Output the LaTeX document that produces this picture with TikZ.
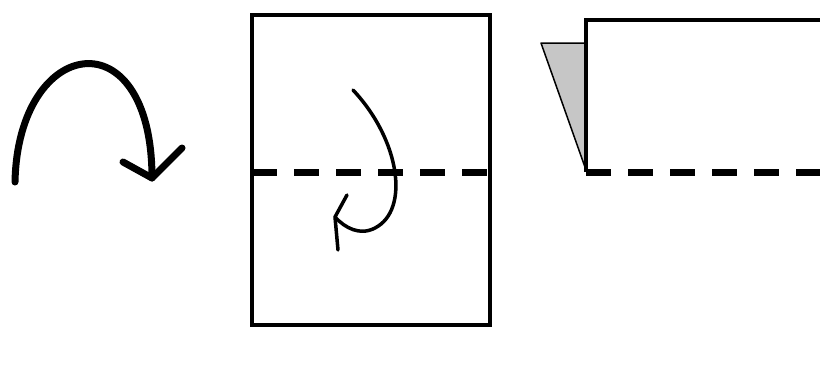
\documentclass[tikz,border=0pt]{standalone}
\usetikzlibrary{calc}
\tikzset{
  paper/.style={line width=3.5pt},
  foldline/.style={line width=7pt, dash pattern=on 25pt off 17pt},
  turnarrow/.style={line width=7pt, line cap=round, line join=round},
  flaparrow/.style={line width=3.5pt, line cap=round, line join=round},
}
\begin{document}
\begin{tikzpicture}[x=1pt, y=-1pt]
\useasboundingbox (0,0) rectangle (820,367);
\begin{scope}
  \coordinate (turnstart) at (15,182);
  \coordinate (turntip) at (152,178);
  \draw[turnarrow] (turnstart) .. controls (18,35) and (152,15) .. (turntip);
  \draw[turnarrow] (123,162) -- (turntip) -- (182,148);
\end{scope}
\begin{scope}
  \draw[paper] (252,15) rectangle (490,325);
  \draw[foldline] (252,172) -- (490,172);
  \coordinate (flapstart) at (353,90);
  \coordinate (flaptip) at (335,217);
  \draw[flaparrow] (flapstart) .. controls (400,140) and (410,210) .. (375,228) .. controls (360,236) and (345,228) .. (flaptip);
  \draw[flaparrow] (347,195) -- (flaptip) -- (338,250);
\end{scope}
\begin{scope}
  \draw[line width=1.5pt, fill=gray!45, line join=round] (586,43) -- (541,43) -- (586,170) -- cycle;
  \draw[paper] (820,20) -- (586,20) -- (586,172);
  \draw[foldline] (586,172) -- (820,172);
\end{scope}
\end{tikzpicture}
\end{document}
